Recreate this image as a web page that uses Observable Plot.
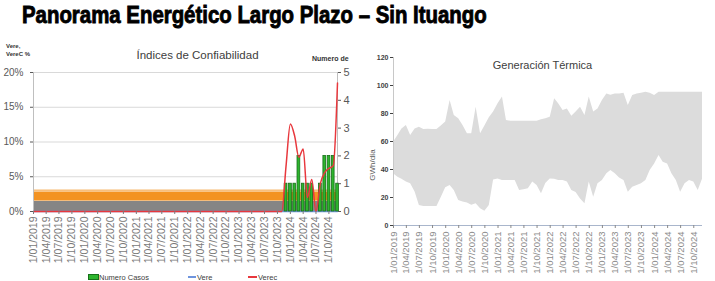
<!DOCTYPE html>
<html><head><meta charset="utf-8">
<script src="https://cdn.jsdelivr.net/npm/d3@7"></script>
<script src="https://cdn.jsdelivr.net/npm/@observablehq/plot@0.6"></script>
<style>
html,body{margin:0;padding:0;background:#fff;}
#wrap{position:relative;width:715px;height:281px;overflow:hidden;font-family:"Liberation Sans",Arial,sans-serif;}
.abs{position:absolute;white-space:nowrap;}
#title{left:22px;top:3px;font-size:24px;line-height:24px;font-weight:bold;color:#000;transform:scaleX(0.85);transform-origin:0 0;-webkit-text-stroke:0.9px #000;}
#t1{left:197.5px;top:49px;font-size:11.5px;line-height:12px;color:#404040;transform:translateX(-50%);}
#t2{left:542.5px;top:59px;font-size:11px;line-height:12px;color:#404040;transform:translateX(-50%);}
#yl1{left:6px;top:42px;font-size:6px;line-height:8px;font-weight:bold;color:#333;}
#yl2{left:312px;top:54px;font-size:7px;line-height:9px;font-weight:bold;color:#333;}
#yl3{left:372px;top:165px;font-size:8px;line-height:9px;color:#595959;transform:translate(-50%,-50%) rotate(-90deg);}
#left{position:absolute;left:0;top:40px;}
#right{position:absolute;left:360px;top:40px;}
.leg{font-size:7.5px;line-height:9px;color:#404040;top:272.5px;}
.right g[aria-label="y-axis tick label"] text{font-weight:bold;}
</style></head><body><div id="wrap">
<div id="title" class="abs">Panorama Energético Largo Plazo – Sin Ituango</div>
<div id="t1" class="abs">Índices de Confiabilidad</div>
<div id="t2" class="abs">Generación Térmica</div>
<div id="yl1" class="abs">Vere,<br>VereC %</div>
<div id="yl2" class="abs">Numero de</div>
<div id="yl3" class="abs">GWh/día</div>
<div id="left"></div>
<div id="right"></div>
<div class="abs" style="left:88px;top:274px;width:9px;height:4px;background:#2db52d;border:1px solid #17701a;"></div>
<div class="abs leg" style="left:99px;">Numero Casos</div>
<div class="abs" style="left:188px;top:276px;width:8px;height:2px;background:#6f95dd;"></div>
<div class="abs leg" style="left:197px;">Vere</div>
<div class="abs" style="left:248px;top:276px;width:9px;height:2px;background:#e8383d;"></div>
<div class="abs leg" style="left:258px;">Verec</div>
</div>
<script>
// ---- data ----
const xTickLabels = ["1/01/2019","1/04/2019","1/07/2019","1/10/2019","1/01/2020","1/04/2020","1/07/2020","1/10/2020",
  "1/01/2021","1/04/2021","1/07/2021","1/10/2021","1/01/2022","1/04/2022","1/07/2022","1/10/2022",
  "1/01/2023","1/04/2023","1/07/2023","1/10/2023","1/01/2024","1/04/2024","1/07/2024","1/10/2024"];
const leftYTicks = [0, 5, 10, 15, 20];        // %
const rightYTicks = [0, 1, 2, 3, 4, 5];       // Numero de casos
const genYTicks = [0, 20, 40, 60, 80, 100, 120];
const firstMonth = "2019-01-01";
const lastMonth = "2024-12-01";

// Verec (%), monthly Jan 2019 .. Dec 2024
const verec = [
  0,0,0,0,0,0,0,0,0,0,0,0,
  0,0,0,0,0,0,0,0,0,0,0,0,
  0,0,0,0,0,0,0,0,0,0,0,0,
  0,0,0,0,0,0,0,0,0,0,0,0,
  0,0,0,0,0,0,0,0,0,0,0,6.5,
  12.6,10.8,7.8,9.0,2.0,4.6,0,4.0,5.6,6.2,6.6,18.5];
// Vere (%), monthly
const vere = [
  0,0,0,0,0,0,0,0,0,0,0,0,
  0,0,0,0,0,0,0,0,0,0,0,0,
  0,0,0,0,0,0,0,0,0,0,0,0,
  0,0,0,0,0,0,0,0,0,0,0,0,
  0,0,0,0,0,0,0,0,0,0,0,0,
  0,0,0,0,0,0,0,0,0,0,0,0];
// Numero de casos, monthly
const casos = [
  0,0,0,0,0,0,0,0,0,0,0,0,
  0,0,0,0,0,0,0,0,0,0,0,0,
  0,0,0,0,0,0,0,0,0,0,0,0,
  0,0,0,0,0,0,0,0,0,0,0,0,
  0,0,0,0,0,0,0,0,0,0,0,1,
  1,1,2,1,1,1,0,1,2,2,2,1];
// reference bands (%)
const bandLow  = [0, 1.5, 2.75];
const bandHigh = [1.45, 2.75, 3.1];
// Generación térmica (GWh/día) min / max, monthly
const genLow = [
  36.9,34.5,33,31,29.8,24,14.3,13.6,13.6,13.6,13.6,20,
  27,28.6,25,17.9,16.7,16,14.5,15.5,11.9,10.2,14.3,32.5,
  33.3,32.1,32.1,32.1,32.1,25,25.5,26.2,31,28.6,22.6,30,
  33.3,33,32.1,32.1,31,25,23.5,19,15.5,31,20.2,29.8,
  32.1,36.9,39.3,36.9,34,32.1,23.8,27.4,28.6,29.8,32.1,39.3,
  44,50,45.2,44,36.9,32.1,23.8,29.8,32.1,31,25,33];
const genHigh = [
  59.5,64.3,69,71.4,64.3,69,70.2,68.5,68.8,68.6,68.6,71,
  74,89.3,78.6,76.2,71.4,65.5,65.5,84.5,65.5,71,77,81,
  87,91.7,75,74.5,74.5,74.5,74.5,74.5,74.5,74.5,75.5,76.2,
  77.4,90.5,86.9,82.1,83.3,78,81,84.5,78.6,91.7,81,83.3,
  89.3,94,93,94,94,94.5,85.7,92.9,94,94.5,95.2,94.5,
  92.9,95.2,95.2,95.2,95.2,95.2,95.2,95.2,95.2,95.2,95.2,95.2];

// ---- build tables ----
const start = new Date(firstMonth), end = new Date(lastMonth);
const months = d3.utcMonth.range(start, d3.utcMonth.offset(end, 1));
const series = months.map((date, i) => ({date, verec: verec[i], vere: vere[i], casos: casos[i], low: genLow[i], high: genHigh[i]}));
const parseLbl = s => { const [d, m, y] = s.split("/").map(Number); return new Date(Date.UTC(y, m - 1, d)); };
const tickDates = xTickLabels.map(parseLbl);
const lblMap = new Map(tickDates.map((d, i) => [+d, xTickLabels[i]]));
const bands = bandLow.map((lo, i) => ({lo, hi: bandHigh[i], k: i}));
const bandColors = ["#858585", "#f39322", "#f8bf7d"];

const left = Plot.plot({
  width: 360, height: 225,
  marginTop: 32, marginBottom: 54, marginLeft: 33, marginRight: 23,
  style: {fontFamily: "Liberation Sans, Arial, sans-serif", background: "transparent"},
  x: {type: "utc", domain: [start, end]},
  y: {domain: [0, 20]},
  marks: [
    Plot.ruleY(leftYTicks.filter(d => d > 0), {stroke: "#d9d9d9", strokeWidth: 1}),
    Plot.rect(bands, {x1: () => start, x2: () => end, y1: "lo", y2: "hi", fill: d => bandColors[d.k]}),
    Plot.ruleX([start, end], {stroke: "#bfbfbf"}),
    Plot.line(series, {x: "date", y: "vere", stroke: "#6f95dd", strokeWidth: 1.5}),
    Plot.rectY(series.filter(d => d.casos > 0), {x: "date", y: d => d.casos * 4, interval: "month",
      insetLeft: 0.8, insetRight: 0.8, dx: -2.1, fill: "#2db52d", stroke: "#17701a", strokeWidth: 0.8}),
    Plot.line(series, {x: "date", y: "verec", stroke: "#e8383d", strokeWidth: 1.5, curve: "monotone-x"}),
    Plot.axisY({ticks: leftYTicks, tickFormat: d => d + "%", tickSize: 3, tickPadding: 7, fontSize: 10, color: "#595959", label: null}),
    Plot.axisY({anchor: "right", ticks: rightYTicks.map(d => d * 4), tickFormat: d => String(d / 4), tickSize: 3, tickPadding: 3, fontSize: 11, color: "#595959", label: null}),
    Plot.axisX({ticks: tickDates, tickFormat: d => lblMap.get(+d), tickRotate: -90, tickSize: 3, tickPadding: 2, fontSize: 10.5, color: "#7a7a7a", label: null})
  ]
});
document.getElementById("left").appendChild(left);

const right = Plot.plot({
  width: 355, height: 241,
  marginTop: 17, marginBottom: 56, marginLeft: 33, marginRight: 13,
  className: "right",
  style: {fontFamily: "Liberation Sans, Arial, sans-serif", background: "transparent"},
  x: {type: "utc", domain: [start, end]},
  y: {domain: [0, 120]},
  marks: [
    Plot.areaY(series, {x: "date", y1: "low", y2: "high", fill: "#dcdcdc"}),
    Plot.ruleX([start], {stroke: "#c8c8c8"}),
    Plot.ruleY([0], {stroke: "#a9b6cc"}),
    Plot.axisY({ticks: genYTicks, tickSize: 3, tickPadding: 2, fontSize: 7, color: "#404040", label: null}),
    Plot.axisX({ticks: tickDates, tickFormat: d => lblMap.get(+d), tickRotate: -90, tickSize: 3, tickPadding: 3, fontSize: 9.5, color: "#8a8a8a", label: null})
  ]
});
document.getElementById("right").appendChild(right);
</script></body></html>
